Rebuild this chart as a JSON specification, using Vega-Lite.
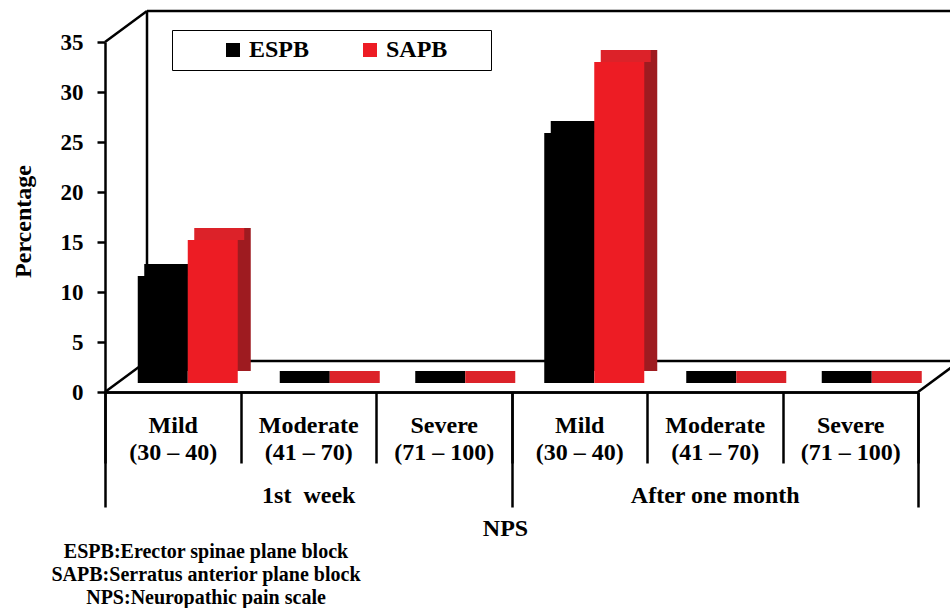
{
  "$schema": "https://vega.github.io/schema/vega-lite/v6.json",
  "width": 813,
  "height": 350,
  "autosize": {"type": "none"},
  "padding": {"left": 105, "top": 42, "right": 32, "bottom": 216},
  "background": "white",
  "config": {
    "view": {"stroke": null},
    "font": "Liberation Serif, Times New Roman, DejaVu Serif, serif",
    "axisY": {
      "domainColor": "black",
      "domainWidth": 2.5,
      "tickColor": "black",
      "tickWidth": 2.5,
      "tickSize": 8,
      "tickCount": 7,
      "grid": false,
      "labelFont": "Liberation Serif, Times New Roman, DejaVu Serif, serif",
      "labelFontSize": 23,
      "labelFontWeight": "bold",
      "labelColor": "black",
      "labelPadding": 14,
      "titleFont": "Liberation Serif, Times New Roman, DejaVu Serif, serif",
      "titleFontSize": 24,
      "titleFontWeight": "bold",
      "titleColor": "black",
      "titleX": -82,
      "titleY": 179,
      "titleAlign": "center",
      "titleBaseline": "middle"
    }
  },
  "data": {
    "values": [
      {"period": "1st week", "slot": "1st week|Mild|(30 – 40)", "group": "ESPB", "value": 10.7},
      {"period": "1st week", "slot": "1st week|Mild|(30 – 40)", "group": "SAPB", "value": 14.3},
      {"period": "1st week", "slot": "1st week|Moderate|(41 – 70)", "group": "ESPB", "value": 0},
      {"period": "1st week", "slot": "1st week|Moderate|(41 – 70)", "group": "SAPB", "value": 0},
      {"period": "1st week", "slot": "1st week|Severe|(71 – 100)", "group": "ESPB", "value": 0},
      {"period": "1st week", "slot": "1st week|Severe|(71 – 100)", "group": "SAPB", "value": 0},
      {"period": "After one month", "slot": "After one month|Mild|(30 – 40)", "group": "ESPB", "value": 25},
      {"period": "After one month", "slot": "After one month|Mild|(30 – 40)", "group": "SAPB", "value": 32.1},
      {"period": "After one month", "slot": "After one month|Moderate|(41 – 70)", "group": "ESPB", "value": 0},
      {"period": "After one month", "slot": "After one month|Moderate|(41 – 70)", "group": "SAPB", "value": 0},
      {"period": "After one month", "slot": "After one month|Severe|(71 – 100)", "group": "ESPB", "value": 0},
      {"period": "After one month", "slot": "After one month|Severe|(71 – 100)", "group": "SAPB", "value": 0}
    ]
  },
  "title": {
    "text": ["ESPB:Erector spinae plane block", "SAPB:Serratus anterior plane block", "NPS:Neuropathic pain scale"],
    "orient": "bottom",
    "frame": "group",
    "anchor": "start",
    "align": "center",
    "dx": 101,
    "offset": 2,
    "font": "Liberation Serif, Times New Roman, DejaVu Serif, serif",
    "fontSize": 20,
    "fontWeight": "bold",
    "color": "black",
    "lineHeight": 23
  },
  "layer": [
    {
      "data": {"values": [{}]},
      "layer": [
        {
          "mark": {"type": "rule", "color": "black", "strokeWidth": 2.5, "xOffset": 42, "x2Offset": 42, "yOffset": -31},
          "encoding": {
            "x": {"datum": 0, "type": "quantitative", "scale": {"domain": [0, 1]}, "axis": null},
            "x2": {"datum": 1},
            "y": {"datum": 35, "type": "quantitative"}
          }
        },
        {
          "mark": {"type": "rule", "color": "black", "strokeWidth": 2.5, "xOffset": 42, "x2Offset": 42, "yOffset": -31},
          "encoding": {
            "x": {"datum": 0, "type": "quantitative", "scale": {"domain": [0, 1]}, "axis": null},
            "x2": {"datum": 1},
            "y": {"datum": 0, "type": "quantitative"}
          }
        },
        {
          "mark": {"type": "rule", "color": "black", "strokeWidth": 2.5, "xOffset": 42, "yOffset": -31, "y2Offset": -31},
          "encoding": {
            "x": {"datum": 0, "type": "quantitative", "scale": {"domain": [0, 1]}, "axis": null},
            "y": {"datum": 35, "type": "quantitative"},
            "y2": {"datum": 0}
          }
        },
        {
          "mark": {"type": "rule", "color": "black", "strokeWidth": 2.5, "x2Offset": 42, "y2Offset": -31},
          "encoding": {
            "x": {"datum": 0, "type": "quantitative", "scale": {"domain": [0, 1]}, "axis": null},
            "x2": {"datum": 0},
            "y": {"datum": 35, "type": "quantitative"},
            "y2": {"datum": 35}
          }
        },
        {
          "mark": {"type": "rule", "color": "black", "strokeWidth": 2.5, "x2Offset": 42, "y2Offset": -31},
          "encoding": {
            "x": {"datum": 0, "type": "quantitative", "scale": {"domain": [0, 1]}, "axis": null},
            "x2": {"datum": 0},
            "y": {"datum": 0, "type": "quantitative"},
            "y2": {"datum": 0}
          }
        },
        {
          "mark": {"type": "rule", "color": "black", "strokeWidth": 2.5, "x2Offset": 42, "y2Offset": -31},
          "encoding": {
            "x": {"datum": 1, "type": "quantitative", "scale": {"domain": [0, 1]}, "axis": null},
            "x2": {"datum": 1},
            "y": {"datum": 0, "type": "quantitative"},
            "y2": {"datum": 0}
          }
        }
      ]
    },
    {
      "layer": [
        {
          "transform": [{"filter": "datum.group === 'ESPB'"}],
          "mark": {"type": "bar", "width": 50, "xOffset": 3, "yOffset": -21, "y2Offset": -21, "color": "#111111"},
          "encoding": {
            "x": {"field": "slot", "type": "nominal", "sort": null, "scale": {"paddingInner": 0, "paddingOuter": 0}},
            "y": {"field": "value", "type": "quantitative", "title": "Percentage", "scale": {"domain": [0, 35]}}
          }
        },
        {
          "transform": [{"filter": "datum.group === 'SAPB'"}],
          "mark": {"type": "bar", "width": 50, "xOffset": 53, "yOffset": -21, "y2Offset": -21, "color": "#9e1b20"},
          "encoding": {
            "x": {"field": "slot", "type": "nominal", "sort": null},
            "y": {"field": "value", "type": "quantitative", "title": "Percentage"}
          }
        },
        {
          "transform": [{"filter": "datum.group === 'ESPB'"}],
          "mark": {"type": "bar", "width": 50, "xOffset": -3.5, "yOffset": -21, "y2Offset": -9, "color": "#000000"},
          "encoding": {
            "x": {"field": "slot", "type": "nominal", "sort": null},
            "y": {"field": "value", "type": "quantitative", "title": "Percentage"},
            "y2": {"field": "value"}
          }
        },
        {
          "transform": [{"filter": "datum.group === 'SAPB'"}],
          "mark": {"type": "bar", "width": 50, "xOffset": 46.5, "yOffset": -21, "y2Offset": -9, "color": "#dc2229"},
          "encoding": {
            "x": {"field": "slot", "type": "nominal", "sort": null},
            "y": {"field": "value", "type": "quantitative", "title": "Percentage"},
            "y2": {"field": "value"}
          }
        },
        {
          "transform": [{"filter": "datum.group === 'ESPB'"}],
          "mark": {"type": "bar", "width": 50, "xOffset": -10, "yOffset": -9, "y2Offset": -9},
          "encoding": {
            "x": {
              "field": "slot",
              "type": "nominal",
              "sort": null,
              "axis": {
                "orient": "bottom",
                "title": null,
                "domainColor": "black",
                "domainWidth": 2.5,
                "tickColor": "black",
                "tickWidth": 2.5,
                "tickSize": 71,
                "tickBand": "extent",
                "labelAngle": 0,
                "labelAlign": "center",
                "labelFont": "Liberation Serif, Times New Roman, DejaVu Serif, serif",
                "labelFontSize": 24,
                "labelFontWeight": "bold",
                "labelColor": "black",
                "labelBaseline": "top",
                "labelLineHeight": 27,
                "labelPadding": -50,
                "labelExpr": "slice(split(datum.label, '|'), 1)"
              }
            },
            "y": {"field": "value", "type": "quantitative", "title": "Percentage"},
            "color": {
              "field": "group",
              "type": "nominal",
              "sort": null,
              "scale": {"domain": ["ESPB", "SAPB"], "range": ["#000000", "#ed1c24"]},
              "legend": {
                "orient": "none",
                "legendX": 67,
                "legendY": -12,
                "direction": "horizontal",
                "title": " ",
                "titleOrient": "right",
                "titlePadding": 36,
                "titleFontSize": 24,
                "padding": 8,
                "strokeColor": "black",
                "symbolType": "square",
                "symbolSize": 196,
                "symbolStrokeWidth": 0,
                "symbolOffset": 41,
                "labelFont": "Liberation Serif, Times New Roman, DejaVu Serif, serif",
                "labelFontSize": 24,
                "labelFontWeight": "bold",
                "labelColor": "black",
                "labelOffset": 4,
                "columnPadding": 7
              }
            }
          }
        },
        {
          "transform": [{"filter": "datum.group === 'SAPB'"}],
          "mark": {"type": "bar", "width": 50, "xOffset": 40, "yOffset": -9, "y2Offset": -9},
          "encoding": {
            "x": {"field": "slot", "type": "nominal", "sort": null},
            "y": {"field": "value", "type": "quantitative", "title": "Percentage"},
            "color": {"field": "group", "type": "nominal", "sort": null}
          }
        }
      ]
    },
    {
      "mark": {"type": "rule", "opacity": 0},
      "encoding": {
        "x": {
          "field": "period",
          "type": "nominal",
          "sort": null,
          "scale": {"type": "band", "paddingInner": 0, "paddingOuter": 0},
          "axis": {
            "orient": "bottom",
            "title": "NPS",
            "titleFont": "Liberation Serif, Times New Roman, DejaVu Serif, serif",
            "titleFontSize": 24,
            "titleFontWeight": "bold",
            "titleColor": "black",
            "titleX": 400,
            "titleY": 136,
            "titleBaseline": "middle",
            "domainColor": "black",
            "domainWidth": 2.5,
            "tickColor": "black",
            "tickWidth": 2.5,
            "tickSize": 115,
            "tickBand": "extent",
            "labelAngle": 0,
            "labelAlign": "center",
            "labelFont": "Liberation Serif, Times New Roman, DejaVu Serif, serif",
            "labelFontSize": 24,
            "labelFontWeight": "bold",
            "labelColor": "black",
            "labelBaseline": "top",
            "labelPadding": -24,
            "labelExpr": "datum.label == '1st week' ? '1st\u00a0 week' : datum.label"
          }
        }
      }
    }
  ],
  "resolve": {"scale": {"x": "independent"}, "axis": {"x": "independent"}}
}
